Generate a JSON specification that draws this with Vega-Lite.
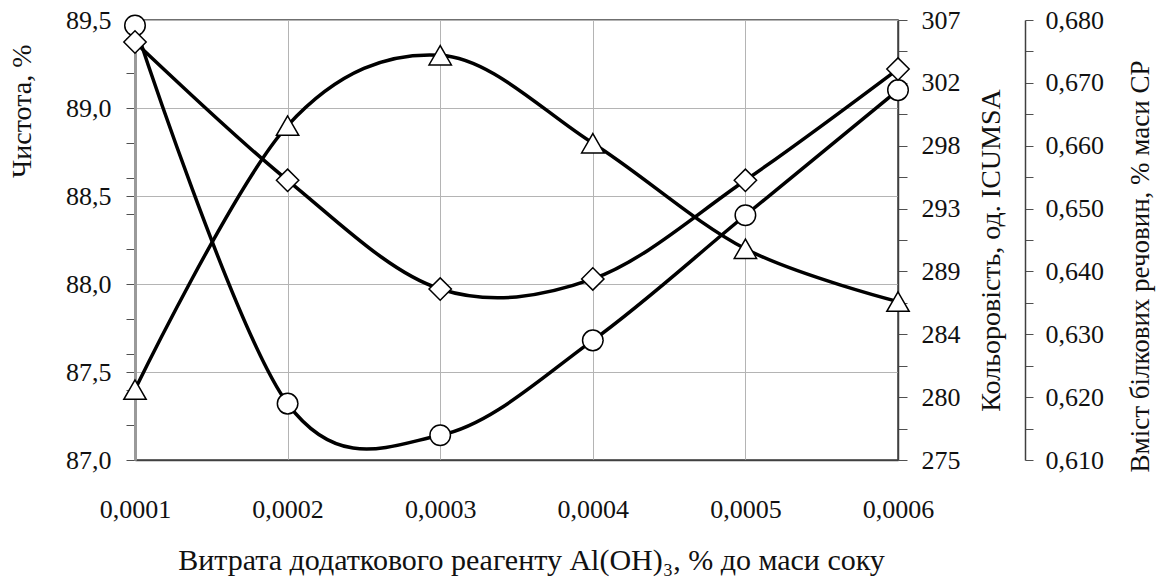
{
  "$schema": "https://vega.github.io/schema/vega-lite/v6.json",
  "autosize": {"type": "none"},
  "padding": {"left": 135, "top": 20, "right": 260, "bottom": 122},
  "width": 763,
  "height": 440,
  "background": "white",
  "config": {
    "font": "Liberation Serif",
    "view": {"stroke": "#404040", "strokeWidth": 1.5},
    "axis": {
      "labelFont": "Liberation Serif",
      "titleFont": "Liberation Serif",
      "labelFontSize": 26,
      "titleFontSize": 28,
      "labelColor": "#111111",
      "titleColor": "#111111",
      "titleFontWeight": "normal",
      "gridColor": "#b4b4b4",
      "gridWidth": 1,
      "domainColor": "#404040",
      "domainWidth": 1.5,
      "tickColor": "#505050",
      "labelOverlap": false,
      "labelBound": false,
      "labelFlush": false
    }
  },
  "data": {
    "values": [
      {"x": 0.0001, "purity": 87.4, "color": 306.6, "protein": 0.6765},
      {"x": 0.0002, "purity": 88.9, "color": 279.1, "protein": 0.6545},
      {"x": 0.0003, "purity": 89.3, "color": 276.8, "protein": 0.6372},
      {"x": 0.0004, "purity": 88.8, "color": 283.7, "protein": 0.6388},
      {"x": 0.0005, "purity": 88.2, "color": 292.8, "protein": 0.6545},
      {"x": 0.0006, "purity": 87.9, "color": 301.9, "protein": 0.6722}
    ]
  },
  "layer": [
    {
      "encoding": {
        "x": {
          "field": "x", "type": "quantitative",
          "scale": {"domain": [0.0001, 0.0006], "nice": false, "zero": false},
          "axis": {
            "values": [0.0001, 0.0002, 0.0003, 0.0004, 0.0005, 0.0006],
            "labelExpr": "replace(format(datum.value, '.4f'), '.', ',')",
            "labelFlush": false,
            "ticks": false,
            "labelPadding": 36,
            "grid": true,
            "title": "Витрата додаткового реагенту Al(OH)₃, % до маси соку",
            "titleFontSize": 30,
            "titleX": 396,
            "titlePadding": 23
          }
        },
        "y": {
          "field": "purity", "type": "quantitative",
          "scale": {"domain": [87, 89.5], "nice": false, "zero": false},
          "axis": {
            "orient": "left",
            "values": [87, 87.2, 87.4, 87.5, 87.6, 87.8, 88, 88.2, 88.4, 88.5, 88.6, 88.8, 89, 89.2, 89.4, 89.5],
            "labelExpr": "abs(datum.value*2 - round(datum.value*2)) < 0.001 ? replace(format(datum.value, '.1f'), '.', ',') : ''",
            "grid": true,
            "gridOpacity": {"condition": {"test": "abs(datum.value*2 - round(datum.value*2)) < 0.001", "value": 1}, "value": 0},
            "tickSize": 9,
            "domainColor": "#9a9a9a",
            "domainWidth": 3,
            "labelPadding": 15,
            "title": "Чистота, %",
            "titleAlign": "right",
            "titleX": -99,
            "titleY": 24
          }
        }
      },
      "layer": [
        {"mark": {"type": "line", "interpolate": "cardinal", "color": "black", "strokeWidth": 3.5}, "encoding": {}},
        {"mark": {"type": "point", "shape": "triangle-up", "filled": true, "fill": "white", "stroke": "black", "strokeWidth": 1.5, "size": 500, "opacity": 1}}
      ]
    },
    {
      "encoding": {
        "x": {"field": "x", "type": "quantitative"},
        "y": {
          "field": "color", "type": "quantitative",
          "scale": {"domain": [275, 307], "nice": false, "zero": false},
          "axis": {
            "orient": "right",
            "values": [275, 277.2857, 279.5714, 281.8571, 284.1429, 286.4286, 288.7143, 291, 293.2857, 295.5714, 297.8571, 300.1429, 302.4286, 304.7143, 307],
            "labelExpr": "round((datum.value - 275) * 14 / 32) % 2 == 0 ? format(datum.value, '.0f') : ''",
            "grid": false,
            "tickSize": 9,
            "labelPadding": 14,
            "title": "Кольоровість,   од. ICUMSA",
            "titleAngle": 270,
            "titleBaseline": "top",
            "titleX": 79,
            "titleY": 230
          }
        }
      },
      "layer": [
        {"mark": {"type": "line", "interpolate": "cardinal", "color": "black", "strokeWidth": 3.5}, "encoding": {}},
        {"mark": {"type": "point", "shape": "circle", "filled": true, "fill": "white", "stroke": "black", "strokeWidth": 1.5, "size": 420, "opacity": 1}}
      ]
    },
    {
      "encoding": {
        "x": {"field": "x", "type": "quantitative"},
        "y": {
          "field": "protein", "type": "quantitative",
          "scale": {"domain": [0.61, 0.68], "nice": false, "zero": false},
          "axis": {
            "orient": "right",
            "offset": 127,
            "values": [0.61, 0.615, 0.62, 0.625, 0.63, 0.635, 0.64, 0.645, 0.65, 0.655, 0.66, 0.665, 0.67, 0.675, 0.68],
            "labelExpr": "round(datum.value * 200) % 2 == 0 ? replace(format(datum.value, '.3f'), '.', ',') : ''",
            "grid": false,
            "tickSize": 8,
            "labelPadding": 12,
            "title": "Вміст білкових речовин, % маси СР",
            "titleFontSize": 27,
            "titleAngle": 270,
            "titleBaseline": "top",
            "titleX": 102,
            "titleY": 246
          }
        }
      },
      "layer": [
        {"mark": {"type": "line", "interpolate": "cardinal", "color": "black", "strokeWidth": 3.5}, "encoding": {}},
        {"mark": {"type": "point", "shape": "diamond", "filled": true, "fill": "white", "stroke": "black", "strokeWidth": 1.5, "size": 500, "opacity": 1}}
      ]
    }
  ],
  "resolve": {"scale": {"y": "independent"}, "axis": {"y": "independent"}}
}
